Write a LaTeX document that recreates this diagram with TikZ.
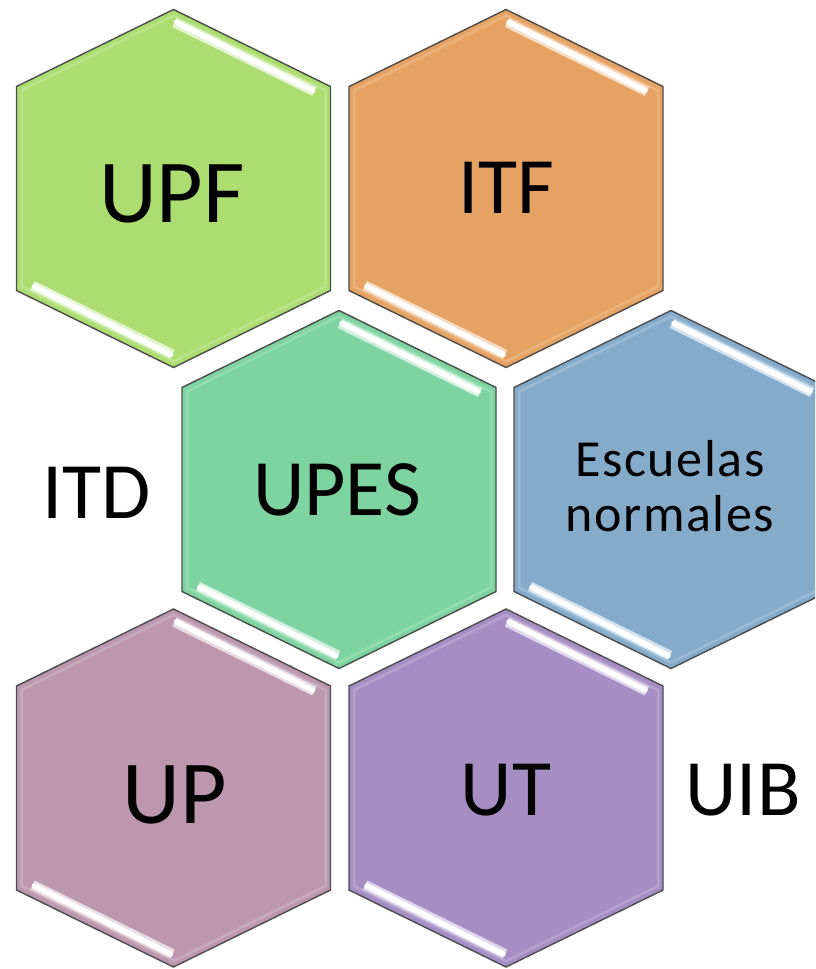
\documentclass[tikz,border=0pt]{standalone}
\usepackage{fontspec}
\setmainfont{Carlito}
\newfontfamily\spacedfont[LetterSpace=3]{Carlito}

\definecolor{upfgreen}{HTML}{ACDD70}
\definecolor{itforange}{HTML}{E6A262}
\definecolor{upesgreen}{HTML}{7DD4A1}
\definecolor{enblue}{HTML}{85ABCB}
\definecolor{upmauve}{HTML}{BC97AE}
\definecolor{utviolet}{HTML}{A68EC4}

\tikzset{
  pics/hexcell/.style={code={
    \path[draw=black!70, line width=1.4pt, fill=#1]
      (0,-179) -- (157,-102) -- (157,102) -- (0,179) -- (-157,102) -- (-157,-102) -- cycle;
    \path[draw=#1!82!white, line width=2.5pt]
      (0,-173) -- (152,-98) -- (152,98) -- (0,173) -- (-152,98) -- (-152,-98) -- cycle;
    \draw[#1!35!white, line width=10pt] (1,-166) -- (141,-97);
    \draw[white, line width=5.5pt, line cap=round] (3,-166) -- (139,-98);
    \draw[#1!35!white, line width=10pt] (-1,166) -- (-141,97);
    \draw[white, line width=5.5pt, line cap=round] (-3,166) -- (-139,98);
  }},
  celltext/.style={anchor=base, inner sep=0pt, text=black},
  bigtext/.style={celltext, font=\fontsize{90}{90}\selectfont},
  midtext/.style={celltext, font=\fontsize{80}{80}\selectfont},
}

\begin{document}
\begin{tikzpicture}[x=1pt, y=-1pt]
\useasboundingbox (0,0) rectangle (815,969);
\clip (0,0) rectangle (815,969);

% hexagons
\pic at (173.5,188.5) {hexcell=upfgreen};
\pic at (506,188.5) {hexcell=itforange};
\pic at (339,489.5) {hexcell=upesgreen};
\pic at (671,489.5) {hexcell=enblue};
\pic at (173.5,788) {hexcell=upmauve};
\pic at (506,788) {hexcell=utviolet};

% labels
\node[bigtext] (upf) at (172,222) {UPF};
\node[midtext] (itf) at (506,213) {ITF};
\node[midtext] (upes) at (337,515) {UPES};
\node[celltext, anchor=center, align=center, font=\spacedfont\fontsize{52}{55}\selectfont] (en) at (670,486) {Escuelas\\normales};
\node[midtext] (itd) at (97,518) {ITD};
\node[bigtext] (up) at (175,823) {UP};
\node[midtext] (ut) at (506,815) {UT};
\node[midtext] (uib) at (743,815) {UIB};
\end{tikzpicture}
\end{document}
